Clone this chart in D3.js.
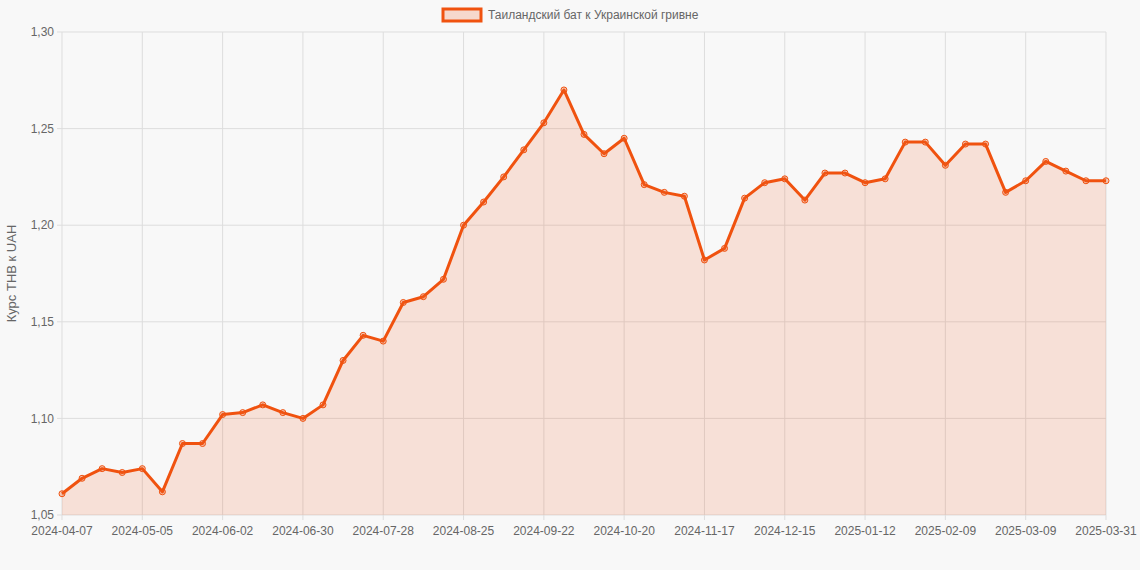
<!DOCTYPE html>
<html><head><meta charset="utf-8">
<script src="https://cdn.jsdelivr.net/npm/d3@7"></script>
<style>body{margin:0;background:#f8f8f8;font-family:"Liberation Sans",Arial,sans-serif}</style>
</head><body><svg id="chart"></svg>
<script>
// Weekly categories
const dates = ['2024-04-07','2024-04-14','2024-04-21','2024-04-28','2024-05-05','2024-05-12','2024-05-19','2024-05-26',
  '2024-06-02','2024-06-09','2024-06-16','2024-06-23','2024-06-30','2024-07-07','2024-07-14','2024-07-21',
  '2024-07-28','2024-08-04','2024-08-11','2024-08-18','2024-08-25','2024-09-01','2024-09-08','2024-09-15',
  '2024-09-22','2024-09-29','2024-10-06','2024-10-13','2024-10-20','2024-10-27','2024-11-03','2024-11-10',
  '2024-11-17','2024-11-24','2024-12-01','2024-12-08','2024-12-15','2024-12-22','2024-12-29','2025-01-05',
  '2025-01-12','2025-01-19','2025-01-26','2025-02-02','2025-02-09','2025-02-16','2025-02-23','2025-03-02',
  '2025-03-09','2025-03-16','2025-03-23','2025-03-30','2025-03-31'];
const rates = [1.061,1.069,1.074,1.072,1.074,1.062,1.087,1.087,1.102,1.103,1.107,1.103,1.100,1.107,1.130,1.143,
  1.140,1.160,1.163,1.172,1.200,1.212,1.225,1.239,1.253,1.270,1.247,1.237,1.245,1.221,1.217,1.215,
  1.182,1.188,1.214,1.222,1.224,1.213,1.227,1.227,1.222,1.224,1.243,1.243,1.231,1.242,1.242,1.217,
  1.223,1.233,1.228,1.223,1.223];
const yTicks = [1.05,1.10,1.15,1.20,1.25,1.30];
const seriesName = 'Таиландский бат к Украинской гривне';

const width = 1140, height = 570;
const margin = {top: 32, right: 34, bottom: 55, left: 62};
const color = '#f0520f';

const svg = d3.select('#chart').attr('width', width).attr('height', height);

const x = d3.scalePoint().domain(d3.range(dates.length)).range([margin.left, width - margin.right]);
const y = d3.scaleLinear().domain([1.05, 1.30]).range([height - margin.bottom, margin.top]);
const fmt = v => v.toFixed(2).replace('.', ',');

// Grid
const xTickIdx = Array.from(new Set(d3.range(0, dates.length, 4).concat([dates.length - 1])));
svg.append('g').selectAll('line').data(xTickIdx).join('line')
  .attr('x1', d => x(d)).attr('x2', d => x(d))
  .attr('y1', margin.top).attr('y2', height - margin.bottom + 5)
  .attr('stroke', '#ddd');
svg.append('g').selectAll('line').data(yTicks).join('line')
  .attr('x1', margin.left - 5).attr('x2', width - margin.right)
  .attr('y1', d => y(d)).attr('y2', d => y(d))
  .attr('stroke', '#ddd');

// Axes labels
svg.append('g').selectAll('text').data(yTicks).join('text')
  .attr('x', margin.left - 8).attr('y', d => y(d)).attr('dy', '0.35em')
  .attr('text-anchor', 'end').attr('font-size', 12).attr('fill', '#666').text(fmt);
svg.append('g').selectAll('text').data(xTickIdx).join('text')
  .attr('x', d => x(d)).attr('y', height - margin.bottom + 20)
  .attr('text-anchor', 'middle').attr('font-size', 12).attr('fill', '#666').text(d => dates[d]);

svg.append('text')
  .attr('transform', `translate(16,${(margin.top + height - margin.bottom) / 2}) rotate(-90)`)
  .attr('text-anchor', 'middle').attr('font-size', 13).attr('fill', '#666').text('Курс THB к UAH');

// Area + line
const area = d3.area().x((d, i) => x(i)).y0(y(1.05)).y1(d => y(d));
const line = d3.line().x((d, i) => x(i)).y(d => y(d));
svg.append('path').datum(rates).attr('d', area).attr('fill', 'rgba(240,90,30,0.15)');
svg.append('path').datum(rates).attr('d', line).attr('fill', 'none')
  .attr('stroke', color).attr('stroke-width', 3).attr('stroke-linejoin', 'round');
svg.append('g').selectAll('circle').data(rates).join('circle')
  .attr('cx', (d, i) => x(i)).attr('cy', d => y(d)).attr('r', 3)
  .attr('fill', 'rgba(240,90,30,0.3)').attr('stroke', color).attr('stroke-width', 1);

// Legend
svg.append('rect').attr('x', 443).attr('y', 9).attr('width', 38).attr('height', 12)
  .attr('fill', 'rgba(240,90,30,0.2)').attr('stroke', color).attr('stroke-width', 3);
svg.append('text').attr('x', 488).attr('y', 15).attr('dy', '0.35em')
  .attr('font-size', 12).attr('fill', '#666').text(seriesName);
</script>
</body></html>
